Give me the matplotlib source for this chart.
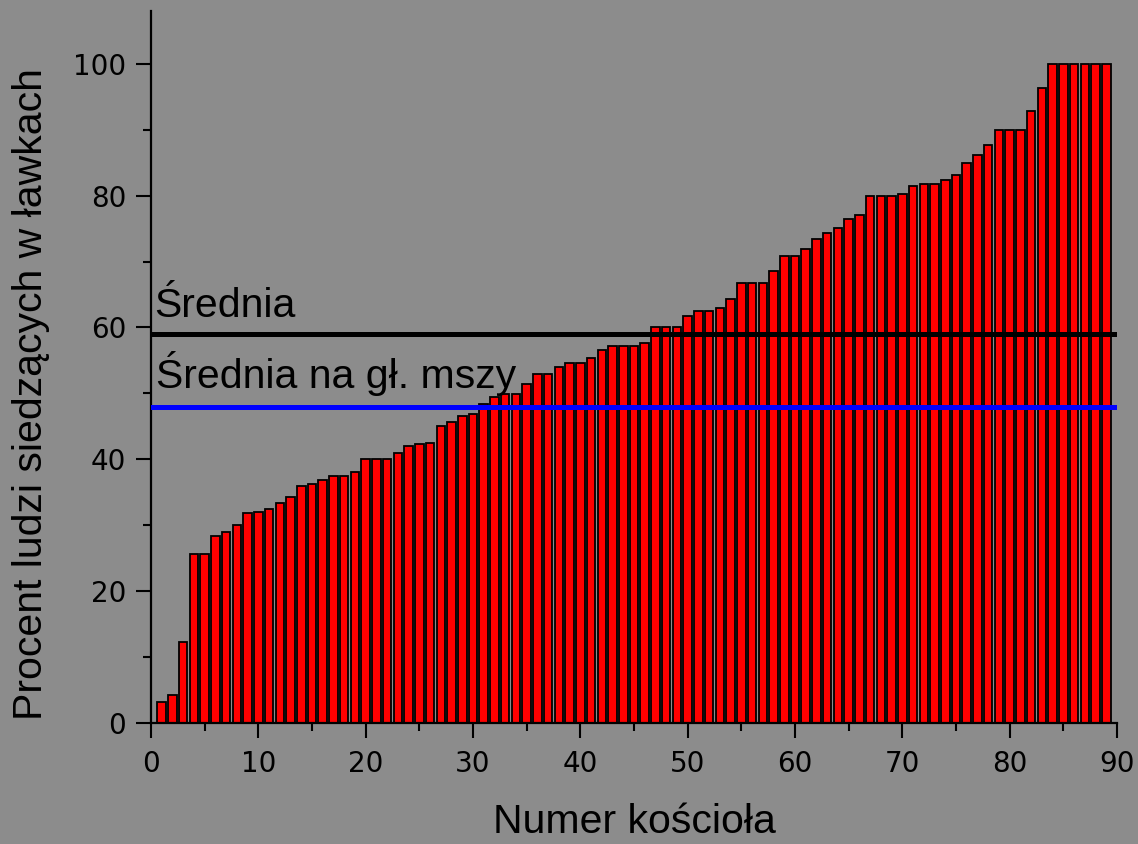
import numpy as np
import matplotlib.pyplot as plt
from matplotlib.ticker import MultipleLocator

# Procent ludzi siedzących w ławkach, kościoły posortowane rosnąco
procent = [3.2, 4.2, 12.3, 25.7, 25.7, 28.3, 29.0, 30.0, 31.8, 32.0,
           32.4, 33.3, 34.3, 36.0, 36.3, 36.9, 37.4, 37.4, 38.1, 40.0,
           40.0, 40.0, 41.0, 42.0, 42.3, 42.5, 45.0, 45.6, 46.6, 46.9,
           48.4, 49.5, 49.9, 49.9, 51.4, 52.9, 52.9, 54.0, 54.6, 54.6,
           55.3, 56.6, 57.2, 57.2, 57.2, 57.6, 60.0, 60.0, 60.0, 61.7,
           62.5, 62.5, 62.9, 64.3, 66.7, 66.7, 66.7, 68.6, 70.9, 70.9,
           71.9, 73.4, 74.4, 75.1, 76.4, 77.0, 80.0, 80.0, 80.0, 80.2,
           81.4, 81.8, 81.8, 82.3, 83.1, 85.0, 86.1, 87.6, 90.0, 90.0,
           90.0, 92.9, 96.3, 100, 100, 100, 100, 100, 100]
numer = np.arange(1, len(procent) + 1)

srednia = 59.0
srednia_glowna = 48.0

tlo = "#8c8c8c"
sans = ["Liberation Sans", "DejaVu Sans"]

fig = plt.figure(figsize=(11.38, 8.44), dpi=100, facecolor=tlo)
ax = fig.add_axes([151 / 1138, 1 - 723 / 844, 966 / 1138, 712 / 844])
ax.set_facecolor(tlo)

ax.bar(numer, procent, width=0.8, color="#ff0000", edgecolor="black",
       linewidth=1.3, zorder=2)

ax.axhline(srednia, color="black", linewidth=3.6, zorder=3)
ax.axhline(srednia_glowna, color="#0000ff", linewidth=3.6, zorder=3)

ax.text(0.28, 61.6, "Średnia", fontsize=29.5, family=sans)
ax.text(0.47, 50.8, "Średnia na gł. mszy", fontsize=29.5, family=sans)

ax.set_xlim(0, 90)
ax.set_ylim(0, 108)
ax.xaxis.set_major_locator(MultipleLocator(10))
ax.xaxis.set_minor_locator(MultipleLocator(5))
ax.yaxis.set_major_locator(MultipleLocator(20))
ax.yaxis.set_minor_locator(MultipleLocator(10))
ax.set_yticks([0, 20, 40, 60, 80, 100])

for s in ["top", "right"]:
    ax.spines[s].set_visible(False)
for s in ["left", "bottom"]:
    ax.spines[s].set_linewidth(1.6)

ax.tick_params(which="major", direction="out", length=10.8, width=1.5,
               labelsize=20, pad=9)
ax.tick_params(which="minor", direction="out", length=5.8, width=1.5)
ax.tick_params(axis="y", which="major", pad=7)

ax.set_xlabel("Numer kościoła", fontsize=29.5, family=sans)
ax.set_ylabel("Procent ludzi siedzących w ławkach", fontsize=29.5, family=sans)
ax.xaxis.set_label_coords(0.5, -0.113)
ax.yaxis.set_label_coords(-0.1046, 0.462)

fig.savefig("out.png", dpi=100, facecolor=tlo)
